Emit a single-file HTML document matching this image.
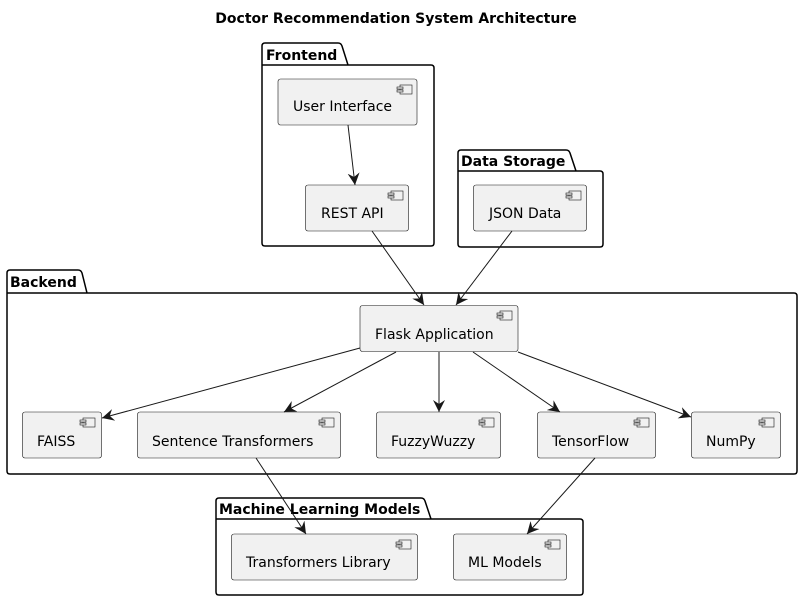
<!DOCTYPE html>
<html><head><meta charset="utf-8"><style>
html,body{margin:0;padding:0;background:#fff;}
svg{display:block;}
text{font-family:"DejaVu Sans",sans-serif;font-size:14px;fill:#000;}
.pk{font-weight:bold;font-size:14px;}
.c{fill:#f1f1f1;stroke:#181818;stroke-width:0.6;}
.p{fill:none;stroke:#000;stroke-width:1.5;}
.a{stroke:#181818;stroke-width:1;fill:none;marker-end:url(#ah);}
</style></head><body>
<svg width="804" height="601" viewBox="0 0 804 601" xmlns="http://www.w3.org/2000/svg">
<defs>
<marker id="ah" markerWidth="14" markerHeight="12" refX="12" refY="6" orient="auto" markerUnits="userSpaceOnUse">
<path d="M0,0 L12,6 L0,12 L4,6 Z" fill="#181818"/>
</marker>
<g id="ic"><rect x="4" y="0" width="12" height="9" fill="#f1f1f1" stroke="#181818" stroke-width="0.6"/><rect x="1" y="2" width="6" height="2" fill="#f1f1f1" stroke="#181818" stroke-width="0.6"/><rect x="1" y="5" width="6" height="2" fill="#f1f1f1" stroke="#181818" stroke-width="0.6"/></g>
</defs>
<text x="396" y="23" text-anchor="middle" style="font-weight:bold;font-size:14px">Doctor Recommendation System Architecture</text>

<!-- Frontend -->
<path class="p" d="M265,43 L338,43 Q341,43 342,46 L348,65 L431,65 Q434,65 434,68 L434,243 Q434,246 431,246 L265,246 Q262,246 262,243 L262,46 Q262,43 265,43 Z M262,65 L348,65"/>
<text class="pk" x="266" y="60">Frontend</text>
<!-- Data Storage -->
<path class="p" d="M461,150 L566,150 Q569,150 570,153 L576,171 L600,171 Q603,171 603,174 L603,244 Q603,247 600,247 L461,247 Q458,247 458,244 L458,153 Q458,150 461,150 Z M458,171 L576,171"/>
<text class="pk" x="461" y="166">Data Storage</text>
<!-- Backend -->
<path class="p" d="M10,270 L78,270 Q81,270 82,273 L87,293 L794,293 Q797,293 797,296 L797,471 Q797,474 794,474 L10,474 Q7,474 7,471 L7,273 Q7,270 10,270 Z M7,293 L87,293"/>
<text class="pk" x="10" y="287">Backend</text>
<!-- ML -->
<path class="p" d="M219,498 L421,498 Q424,498 425,501 L431,519 L580,519 Q583,519 583,522 L583,592 Q583,595 580,595 L219,595 Q216,595 216,592 L216,501 Q216,498 219,498 Z M216,519 L431,519"/>
<text class="pk" x="219" y="514">Machine Learning Models</text>

<!-- components -->
<rect class="c" x="278" y="79" width="139" height="46" rx="2.5"/><use href="#ic" x="396" y="85"/><text x="293" y="111">User Interface</text>
<rect class="c" x="305.5" y="185" width="103" height="46" rx="2.5"/><use href="#ic" x="387" y="191"/><text x="321" y="218">REST API</text>
<rect class="c" x="473.5" y="185" width="113" height="46" rx="2.5"/><use href="#ic" x="565" y="191"/><text x="489" y="218">JSON Data</text>
<rect class="c" x="360" y="305.5" width="158" height="46" rx="2.5"/><use href="#ic" x="496" y="311"/><text x="375" y="339">Flask Application</text>
<rect class="c" x="22.5" y="412" width="79" height="46" rx="2.5"/><use href="#ic" x="79" y="418"/><text x="37" y="446">FAISS</text>
<rect class="c" x="137.5" y="412" width="203" height="46" rx="2.5"/><use href="#ic" x="318" y="418"/><text x="152" y="446">Sentence Transformers</text>
<rect class="c" x="376.5" y="412" width="124" height="46" rx="2.5"/><use href="#ic" x="478" y="418"/><text x="391" y="446">FuzzyWuzzy</text>
<rect class="c" x="537.5" y="412" width="118" height="46" rx="2.5"/><use href="#ic" x="633" y="418"/><text x="552" y="446">TensorFlow</text>
<rect class="c" x="691.5" y="412" width="89" height="46" rx="2.5"/><use href="#ic" x="758" y="418"/><text x="706" y="446">NumPy</text>
<rect class="c" x="231.5" y="534" width="186" height="46" rx="2.5"/><use href="#ic" x="395" y="540"/><text x="246" y="567">Transformers Library</text>
<rect class="c" x="453.5" y="534" width="113" height="46" rx="2.5"/><use href="#ic" x="544" y="540"/><text x="468" y="567">ML Models</text>

<!-- arrows -->
<line class="a" x1="348" y1="125" x2="355" y2="185"/>
<line class="a" x1="372" y1="231" x2="424" y2="305"/>
<line class="a" x1="512" y1="231" x2="456" y2="305"/>
<line class="a" x1="360" y1="348" x2="102" y2="418"/>
<line class="a" x1="396" y1="352" x2="284" y2="412"/>
<line class="a" x1="439" y1="352" x2="439" y2="412"/>
<line class="a" x1="473" y1="352" x2="560" y2="412"/>
<line class="a" x1="518" y1="352" x2="691" y2="417"/>
<line class="a" x1="256" y1="458" x2="306" y2="534"/>
<line class="a" x1="595" y1="458" x2="527" y2="534"/>
</svg>
</body></html>
